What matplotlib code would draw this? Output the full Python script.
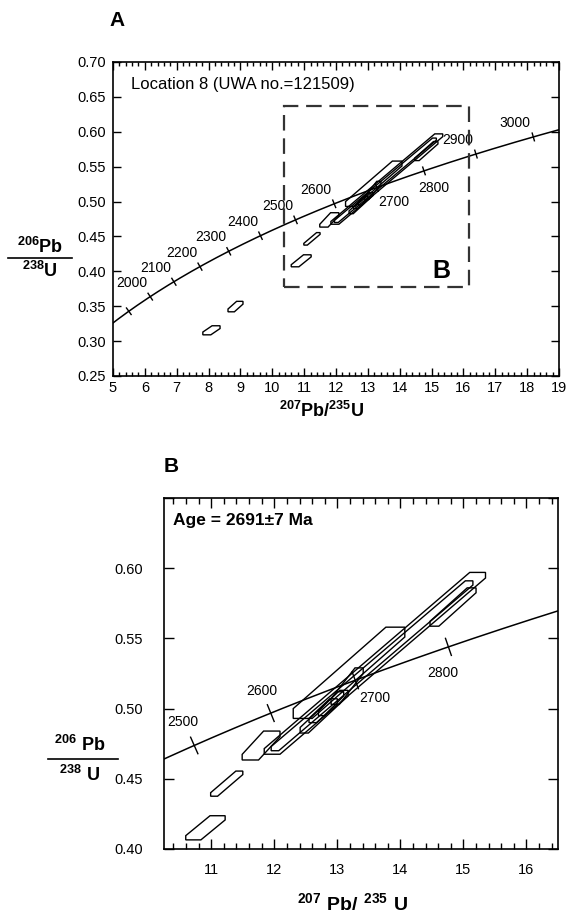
import matplotlib

matplotlib.use("Agg")
import matplotlib.pyplot as plt
import numpy as np
from matplotlib.lines import Line2D
from matplotlib.patches import Polygon, Rectangle
from matplotlib.ticker import MultipleLocator, FormatStrFormatter

plt.rcParams["font.family"] = ["Liberation Sans", "DejaVu Sans"]
plt.rcParams["mathtext.fontset"] = "custom"
plt.rcParams["mathtext.rm"] = "Liberation Sans"
plt.rcParams["mathtext.bf"] = "Liberation Sans:bold"

# decay constants (1/yr) used for the concordia curve
LAMBDA_235 = 9.8485e-10
LAMBDA_238 = 1.55125e-10

# concordia age marks (Ma)
ages_a = [1900, 2000, 2100, 2200, 2300, 2400, 2500, 2600, 2700, 2800, 2900, 3000]
ages_b = [2500, 2600, 2700, 2800]

# error boxes: overall extent (207/235, 206/238) + width/height of the flat edges
box_x_lo = [7.82, 8.61, 10.595, 10.99, 11.49, 12.30, 11.84, 11.95, 14.47, 12.41, 12.55, 12.70, 12.90]
box_x_hi = [8.36, 9.08, 11.22, 11.50, 12.09, 14.07, 15.35, 15.15, 15.20, 13.17, 13.00, 13.10, 13.41]
box_y_lo = [0.309, 0.342, 0.4065, 0.4376, 0.4634, 0.493, 0.4675, 0.470, 0.5587, 0.4826, 0.490, 0.495, 0.503]
box_y_hi = [0.322, 0.357, 0.4237, 0.4555, 0.484, 0.558, 0.597, 0.591, 0.586, 0.513, 0.507, 0.512, 0.529]
box_w = [0.25, 0.20, 0.24, 0.11, 0.26, 0.30, 0.25, 0.12, 0.14, 0.13, 0.12, 0.10, 0.13]
box_h = [0.004, 0.004, 0.003, 0.0025, 0.004, 0.007, 0.004, 0.003, 0.0035, 0.004, 0.003, 0.003, 0.004]

LABEL_A = "Location 8 (UWA no.=121509)"
LABEL_B = "Age = 2691\u00b17 Ma"


def concordia(t_ma):
    t = np.asarray(t_ma, dtype=float) * 1e6
    return np.exp(LAMBDA_235 * t) - 1, np.exp(LAMBDA_238 * t) - 1


def draw_boxes(ax):
    for xl, xh, yl, yh, w, h in zip(box_x_lo, box_x_hi, box_y_lo, box_y_hi, box_w, box_h):
        verts = [(xl, yl), (xl + w, yl), (xh, yh - h), (xh, yh), (xh - w, yh), (xl, yl + h)]
        ax.add_patch(Polygon(verts, closed=True, fill=False, ec="black", lw=1.0, zorder=3))


def draw_concordia(ax, ages, tick_px, offsets, fs):
    x0, x1 = ax.get_xlim()
    tt = np.linspace(1700, 3200, 600)
    cx, cy = concordia(tt)
    ax.plot(cx, cy, color="black", lw=1.1, zorder=2)
    trans = ax.transData
    inv = trans.inverted()
    for age in ages:
        x, y = concordia(age)
        if not (x0 <= x <= x1):
            continue
        xa, ya = concordia(age - 5)
        xb, yb = concordia(age + 5)
        d = trans.transform((xb, yb)) - trans.transform((xa, ya))
        d = d / np.hypot(*d)
        nrm = np.array([-d[1], d[0]])
        p = trans.transform((x, y))
        q0 = inv.transform(p - nrm * tick_px / 2)
        q1 = inv.transform(p + nrm * tick_px / 2)
        ax.plot([q0[0], q1[0]], [q0[1], q1[1]], color="black", lw=1.0, zorder=2)
        if age in offsets:
            ax.annotate(str(age), (x, y), xytext=offsets[age], textcoords="offset pixels",
                        ha="center", va="center", fontsize=fs)


fig = plt.figure(figsize=(5.7, 9.15), dpi=100)
W, H = 570.0, 915.0

# ---- panel A --------------------------------------------------------------
ax_a = fig.add_axes([113 / W, 1 - 376 / H, 446 / W, 314 / H])
ax_a.set_xlim(5, 19)
ax_a.set_ylim(0.25, 0.70)
ax_a.xaxis.set_major_locator(MultipleLocator(1))
ax_a.xaxis.set_minor_locator(MultipleLocator(0.2))
ax_a.yaxis.set_major_locator(MultipleLocator(0.05))
ax_a.yaxis.set_major_formatter(FormatStrFormatter("%.2f"))
ax_a.tick_params(which="both", direction="in", top=True, right=True, labelsize=10.5, width=1.0)
ax_a.tick_params(which="major", length=6)
ax_a.tick_params(which="minor", length=3)
ax_a.tick_params(axis="y", pad=5)
for s in ax_a.spines.values():
    s.set_linewidth(1.2)

offs_a = {a: (-18, 14) for a in ages_a if a >= 2000}
offs_a[2700] = (17, -15)
offs_a[2800] = (10, -17)
draw_concordia(ax_a, ages_a, 8, offs_a, 10)
draw_boxes(ax_a)
ax_a.add_patch(Rectangle((10.37, 0.3775), 16.17 - 10.37, 0.637 - 0.3775, fill=False,
                         ec="#333333", lw=1.6, ls=(0, (7, 3.5)), zorder=4))
ax_a.text(15.58, 0.383, "B", fontsize=18, fontweight="bold", ha="right", va="bottom")
ax_a.text(5.56, 0.668, LABEL_A, fontsize=12, ha="left", va="center")

fig.text(109 / W, 1 - 20 / H, "A", fontsize=15, fontweight="bold", ha="left", va="center")
fig.text(40 / W, 1 - 247 / H, r"$\mathbf{^{206}Pb}$", fontsize=13, ha="center", va="center")
fig.add_artist(Line2D([8 / W, 72 / W], [1 - 258 / H, 1 - 258 / H], color="black", lw=1.2))
fig.text(40 / W, 1 - 271 / H, r"$\mathbf{^{238}U}$", fontsize=13, ha="center", va="center")
fig.text(322 / W, 1 - 411 / H, r"$\mathbf{^{207}Pb/^{235}U}$", fontsize=13, ha="center", va="center")

# ---- panel B --------------------------------------------------------------
ax_b = fig.add_axes([164 / W, 1 - 849 / H, 394 / W, 351 / H])
ax_b.set_xlim(10.25, 16.5)
ax_b.set_ylim(0.40, 0.65)
ax_b.xaxis.set_major_locator(MultipleLocator(1))
ax_b.xaxis.set_minor_locator(MultipleLocator(0.2))
ax_b.set_yticks([0.40, 0.45, 0.50, 0.55, 0.60, 0.65])
ax_b.set_yticklabels(["0.40", "0.45", "0.50", "0.55", "0.60", ""])
ax_b.tick_params(which="both", direction="in", top=True, right=True, labelsize=10.5, width=1.0)
ax_b.tick_params(which="major", length=7)
ax_b.tick_params(which="minor", length=4)
ax_b.tick_params(axis="y", pad=15)
ax_b.tick_params(axis="x", pad=10)
for s in ax_b.spines.values():
    s.set_linewidth(1.2)

offs_b = {2500: (-11, 23), 2600: (-9, 22), 2700: (20, -18), 2800: (-6, -26)}
draw_concordia(ax_b, ages_b, 18, offs_b, 10)
draw_boxes(ax_b)
ax_b.text(10.4, 0.634, LABEL_B, fontsize=12.5, fontweight="bold", ha="left", va="center")

fig.text(164 / W, 1 - 467 / H, "B", fontsize=15, fontweight="bold", ha="left", va="center")
fig.text(80 / W, 1 - 745 / H, r"$\mathbf{^{206}\ Pb}$", fontsize=13, ha="center", va="center")
fig.add_artist(Line2D([48 / W, 118 / W], [1 - 759 / H, 1 - 759 / H], color="black", lw=1.2))
fig.text(80 / W, 1 - 775 / H, r"$\mathbf{^{238}\ U}$", fontsize=13, ha="center", va="center")
fig.text(353 / W, 1 - 903 / H, r"$\mathbf{^{207}\ Pb/\ ^{235}\ U}$", fontsize=14, ha="center", va="center")

fig.savefig("out.png", dpi=100)
